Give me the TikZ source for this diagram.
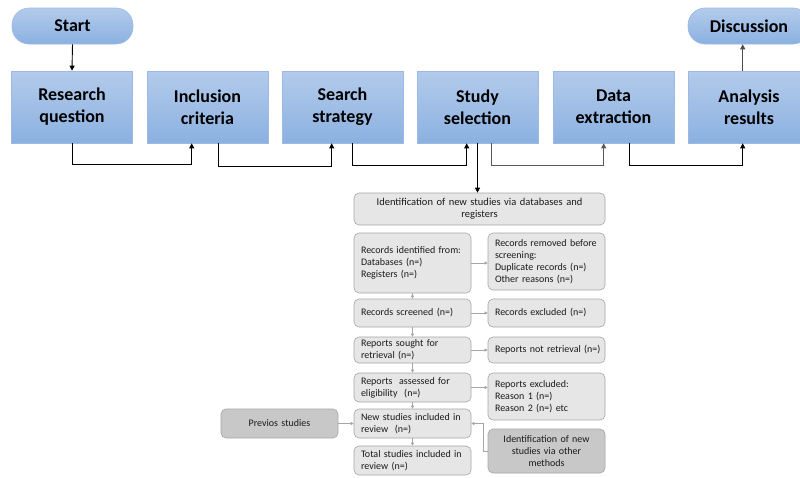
\documentclass[tikz,border=0pt]{standalone}
\usepackage{fontspec}
\setmainfont{Carlito}
\usetikzlibrary{arrows.meta}
\definecolor{bluetop}{HTML}{B3CBEB}
\definecolor{bluebot}{HTML}{8BB1E1}
\definecolor{blueedge}{HTML}{9CBBE4}
\definecolor{grayfill}{HTML}{E6E6E6}
\definecolor{darkfill}{HTML}{C8C8C8}
\definecolor{grayedge}{HTML}{A6A6A6}
\definecolor{txt}{HTML}{1A1A1A}
\tikzset{
  bluebox/.style={rectangle, top color=bluetop, bottom color=bluebot, draw=blueedge,
    line width=0.6pt, minimum width=121pt, minimum height=72pt, inner sep=0pt,
    align=center, text=black, font=\bfseries\fontsize{18}{22}\selectfont},
  pill/.style={bluebox, rounded corners=17pt, minimum height=36pt},
  gbox/.style={rectangle, rounded corners=5pt, fill=grayfill, draw=grayedge,
    line width=0.6pt, inner xsep=7pt, inner ysep=0pt, text width=103pt,
    text=txt, font=\fontsize{10}{12}\selectfont, align=left},
  cbox/.style={gbox, align=center},
  dbox/.style={cbox, fill=darkfill},
  conn/.style={line width=0.9pt, black, -{Triangle[length=5pt,width=5pt]}},
  thin/.style={line width=0.6pt, grayedge, -{Triangle[length=3pt,width=3pt]}},
}
\begin{document}
\begin{tikzpicture}[x=1pt,y=-1pt]
\useasboundingbox (0,0) rectangle (800,477);
\fill[white] (0,0) rectangle (800,477);

% top row: terminals and process steps
\node[pill] (start) at (72.5,26) {Start};
\node[pill, minimum width=122pt] (disc) at (749,26) {Discussion};
\node[bluebox] (rq) at (72,107) {Research\\question};
\node[bluebox] (ic) at (207.5,107) {Inclusion\\criteria};
\node[bluebox] (ss) at (342.5,107) {Search\\strategy};
\node[bluebox] (st) at (477.5,107) {Study\\selection};
\node[bluebox] (de) at (613.5,107) {Data\\extraction};
\node[bluebox, minimum width=122pt] (ar) at (749,107) {Analysis\\results};

\draw[conn] (start.south) -- (rq.north);
\draw[conn] (rq.south) -- ++(0,21) -| ([xshift=45pt]ic.south west);
\draw[conn] ([xshift=72pt]ic.south west) -- ++(0,23) -| ([xshift=50pt]ss.south west);
\draw[conn] ([xshift=71pt]ss.south west) -- ++(0,22) -| ([xshift=50pt]st.south west);
\draw[conn, black!65] ([xshift=75pt]st.south west) -- ++(0,22) -| ([xshift=51pt]de.south west);
\draw[conn] ([xshift=77pt]de.south west) -- ++(0,22) -| ([xshift=55pt]ar.south west);
\draw[conn, black!70] ([xshift=55pt]ar.north west) -- ([xshift=55pt]ar.north west |- disc.south);

% selection flow
\node[cbox, text width=237pt, minimum height=32pt, font=\fontsize{10.5}{12}\selectfont] (ident) at (479.5,209)
  {Identification of new studies via databases and\\registers};
\node[gbox, minimum height=60pt] (recid) at (412.5,263)
  {Records identified from:\\Databases (n=)\\Registers (n=)};
\node[gbox, minimum height=57pt] (recrem) at (546.5,261.5)
  {Records removed before\\screening:\\Duplicate records (n=)\\Other reasons (n=)};
\node[gbox, minimum height=28pt] (scr) at (412.5,313) {Records screened (n=)};
\node[gbox, minimum height=28pt] (exc) at (546.5,313) {Records excluded (n=)};
\node[gbox, minimum height=26pt] (sought) at (412.5,350) {Reports sought for\\retrieval (n=)};
\node[gbox, minimum height=26pt] (notret) at (546.5,350) {\mbox{Reports not retrieval (n=)}};
\node[gbox, minimum height=29pt] (assess) at (412.5,387.5) {Reports\ \ assessed for\\eligibility\ \ (n=)};
\node[gbox, minimum height=47pt] (repexc) at (546.5,396.5) {Reports excluded:\\Reason 1 (n=)\\Reason 2 (n=) etc};
\node[gbox, minimum height=29pt] (newinc) at (412.5,423.5) {New studies included in\\review\ \ (n=)};
\node[gbox, minimum height=29pt] (total) at (412.5,460.5) {Total studies included in\\review (n=)};
\node[dbox, minimum height=44pt] (other) at (546.5,451) {Identification of new\\studies via other\\methods};
\node[dbox, minimum height=29pt] (prev) at (279.5,423.5) {Previos studies};

\draw[conn] (st.south) -- (st.south |- ident.north);
\draw[thin] (recid.south) -- (scr.north);
\draw[thin] (scr.south) -- (sought.north);
\draw[thin] (sought.south) -- (assess.north);
\draw[thin] (assess.south) -- (newinc.north);
\draw[thin] (newinc.south) -- (total.north);
\draw[thin] (recid.east) -- (recid.east -| recrem.west);
\draw[thin] (scr.east) -- (exc.west);
\draw[thin] (sought.east) -- (notret.west);
\draw[thin] (assess.east) -- (assess.east -| repexc.west);
\draw[thin] (prev.east) -- (newinc.west);
\draw[thin] (other.west) -- ++(-4,0) |- (newinc.east);
\end{tikzpicture}
\end{document}
